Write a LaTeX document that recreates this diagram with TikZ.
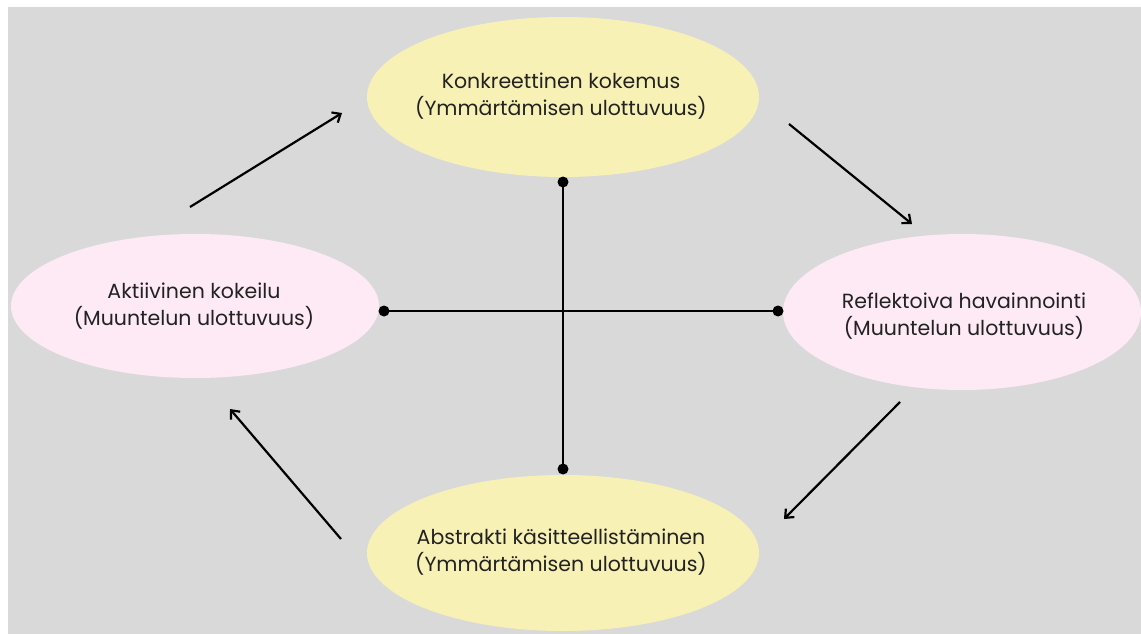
\documentclass[tikz,border=0pt]{standalone}
\usepackage{fontspec}
\setmainfont{Poppins}
\usetikzlibrary{shapes.geometric,arrows.meta}
\definecolor{bg}{HTML}{D9D9D9}
\definecolor{yel}{HTML}{F8F1B6}
\definecolor{pnk}{HTML}{FDEAF5}
\definecolor{txt}{HTML}{222222}
\tikzset{
  blob/.style={ellipse, inner sep=0pt},
  ybox/.style={blob, fill=yel, minimum width=392pt, minimum height=160pt},
  pbox/.style={blob, fill=pnk, minimum width=368pt, minimum height=150pt},
  lbl/.style={inner sep=0pt, align=center, text=txt, font=\fontsize{20.5}{27}\selectfont},
  flow/.style={line width=2.2pt, -{Straight Barb[length=7pt,width=12pt,line width=2.2pt]}},
  axis/.style={line width=2.2pt},
  dot/.style={circle, fill=black, inner sep=0pt, minimum size=11pt}
}
\begin{document}
\begin{tikzpicture}[x=1pt,y=-1pt]
\useasboundingbox (0,0) rectangle (1141,634);
\clip (0,0) rectangle (1141,634);
\fill[white] (0,0) rectangle (1141,634);
\fill[bg] (8,7) rectangle (1141,634);
\node[ybox] (top) at (563,97) {};
\node[ybox, minimum height=156pt] (bot) at (563,553) {};
\node[pbox, minimum width=368pt, minimum height=144pt] (left) at (195,306) {};
\node[pbox, minimum width=358pt, minimum height=156pt] (right) at (962,312) {};
\node[lbl] (ttop) at (561,96) {Konkreettinen kokemus\\(Ymmärtämisen ulottuvuus)};
\node[lbl] (tbot) at (561,552) {Abstrakti käsitteellistäminen\\(Ymmärtämisen ulottuvuus)};
\node[lbl] (tleft) at (194,306) {Aktiivinen kokeilu\\(Muuntelun ulottuvuus)};
\node[lbl] (tright) at (964,316) {Reflektoiva havainnointi\\(Muuntelun ulottuvuus)};
\node[dot] (dt) at (563,182) {};
\node[dot] (db) at (563,469) {};
\node[dot] (dl) at (384,311) {};
\node[dot] (dr) at (778,311) {};
\draw[axis] (dt.center) -- (db.center);
\draw[axis] (dl.center) -- (dr.center);
\coordinate (a1s) at (190,207); \coordinate (a1e) at (342,113);
\coordinate (a2s) at (789,124); \coordinate (a2e) at (912,224);
\coordinate (a3s) at (900,402); \coordinate (a3e) at (784,519);
\coordinate (a4s) at (341,539); \coordinate (a4e) at (230,409);
\draw[flow] (a1s) -- (a1e);
\draw[flow] (a2s) -- (a2e);
\draw[flow] (a3s) -- (a3e);
\draw[flow] (a4s) -- (a4e);
\end{tikzpicture}
\end{document}
